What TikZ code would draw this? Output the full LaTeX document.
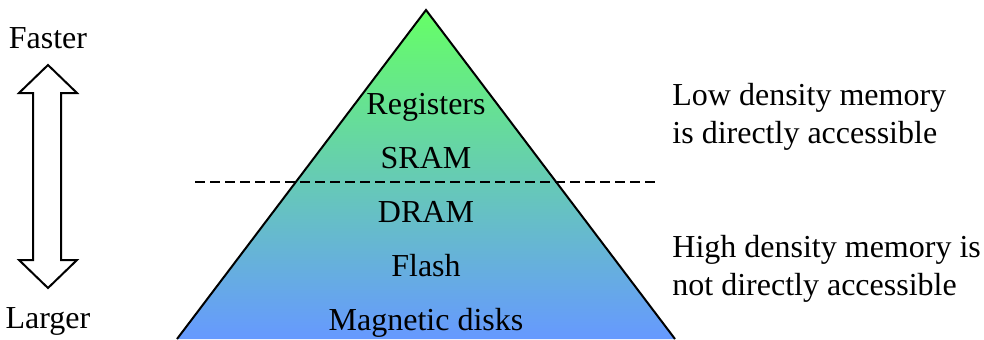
\documentclass[tikz,border=0pt]{standalone}
\usepackage{fontspec}
\setmainfont{Liberation Serif}
\usepackage{xcolor}
\usetikzlibrary{positioning}
\definecolor{fast}{RGB}{102,255,102}
\definecolor{big}{RGB}{102,153,255}
\definecolor{ink}{RGB}{0,0,0}

\begin{document}
\begin{tikzpicture}[x=0.5pt,y=-0.5pt,font=\fontsize{16}{19}\selectfont,
  level/.style={anchor=base,inner sep=0pt,text=ink},
  remark/.style={anchor=base west,align=left,inner sep=0pt,text=ink}]
\useasboundingbox (0,0) rectangle (984,339);
% the pyramid, green at the top and blue at the base
\coordinate (apex) at (426,10);
\coordinate (baseL) at (177,339);
\coordinate (baseR) at (675,339);
\shade[top color=fast,bottom color=big] (apex) -- (baseR) -- (baseL) -- cycle;
\draw[ink,line width=1pt,line join=miter] (baseL) -- (apex) -- (baseR);
% where direct access stops
\coordinate (cutL) at (195,182);
\coordinate (cutR) at (655,182);
\draw[ink,line width=1pt,dash pattern=on 5pt off 2.5pt] (cutL) -- (cutR);
% the levels
\node[level] (reg) at (426,114) {Registers};
\node[level] (sram) at (426,168) {SRAM};
\node[level] (dram) at (426,222) {DRAM};
\node[level] (flash) at (426,276) {Flash};
\node[level] (disk) at (426,330) {Magnetic disks};
% the two halves (base = last line)
\node[remark] (low) at (672,143) {Low density memory\\is directly accessible};
\node[remark] (high) at (672,295) {High density memory is\\not directly accessible};
% speed against size
\node[level] (faster) at (48,48) {Faster};
\node[level] (larger) at (48,328) {Larger};
\draw[ink,line width=1pt,line join=miter] (48,65) -- (77,93) -- (61,93) -- (61,260) -- (77,260) -- (48,288)
  -- (19,260) -- (33,260) -- (33,93) -- (19,93) -- cycle;
\end{tikzpicture}
\end{document}
